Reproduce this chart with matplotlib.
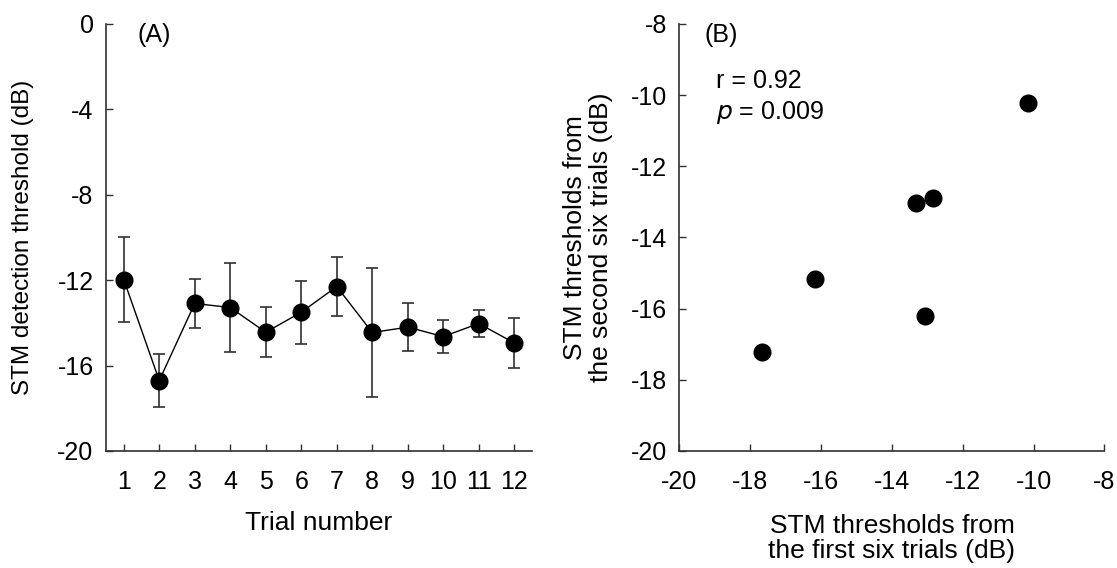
import matplotlib.pyplot as plt
import numpy as np

plt.rcParams["font.family"] = ["Liberation Sans", "DejaVu Sans"]
plt.rcParams["axes.unicode_minus"] = False

# panel A: mean threshold per trial, with error bars
trials = np.arange(1, 13)
trial_mean = [-11.97, -16.70, -13.09, -13.28, -14.44, -13.50, -12.30, -14.45, -14.20, -14.64, -14.03, -14.94]
trial_err = [2.00, 1.26, 1.14, 2.10, 1.17, 1.48, 1.40, 3.00, 1.12, 0.78, 0.65, 1.15]

# panel B: first six vs second six trials
first_six = [-17.68, -16.16, -13.31, -12.83, -13.07, -10.17]
second_six = [-17.22, -15.17, -13.02, -12.88, -16.21, -10.21]

LINE = "#303030"
TICK_FS = 18
LABEL_FS = 19

fig = plt.figure(figsize=(11.17, 5.68), dpi=100)
ax_a = fig.add_axes([0.0949, 0.206, 0.3814, 0.7518])
ax_b = fig.add_axes([0.6083, 0.206, 0.3805, 0.7518])

for ax in (ax_a, ax_b):
    for side in ("top", "right"):
        ax.spines[side].set_visible(False)
    for side in ("left", "bottom"):
        ax.spines[side].set_color(LINE)
        ax.spines[side].set_linewidth(1.2)
    ax.tick_params(direction="in", length=5, width=1.0, color=LINE, labelsize=TICK_FS)
    ax.tick_params(axis="x", pad=14)
    ax.tick_params(axis="y", pad=9)

# (A)
ax_a.errorbar(trials, trial_mean, yerr=trial_err, fmt="o-", color="black",
              ecolor=LINE, elinewidth=1.2, capsize=4, capthick=1.2,
              markersize=12, linewidth=1.0)
ax_a.set_xlim(0.5, 12.5)
ax_a.set_ylim(-20, 0)
ax_a.set_xticks(trials)
ax_a.set_yticks([0, -4, -8, -12, -16, -20])
ax_a.set_xlabel("Trial number", fontsize=LABEL_FS, labelpad=12)
ax_a.set_ylabel("STM detection threshold (dB)", fontsize=17.5, labelpad=17)
ax_a.text(0.074, 0.975, "(A)", transform=ax_a.transAxes, fontsize=TICK_FS, va="center")

# (B)
ax_b.plot(first_six, second_six, "o", color="black", markersize=12)
ax_b.set_xlim(-20, -8)
ax_b.set_ylim(-20, -8)
ax_b.set_xticks([-20, -18, -16, -14, -12, -10, -8])
ax_b.set_yticks([-8, -10, -12, -14, -16, -18, -20])
ax_b.set_xlabel("STM thresholds from\nthe first six trials (dB)", fontsize=LABEL_FS,
                labelpad=14, linespacing=1.05)
ax_b.set_ylabel("STM thresholds from\nthe second six trials (dB)", fontsize=LABEL_FS,
                labelpad=13, linespacing=1.1)
ax_b.text(0.059, 0.975, "(B)", transform=ax_b.transAxes, fontsize=TICK_FS, va="center")
ax_b.text(0.085, 0.850, "r = 0.92", transform=ax_b.transAxes, fontsize=TICK_FS, va="baseline")
ax_b.text(0.085, 0.778, "$\\it{p}$ = 0.009", transform=ax_b.transAxes, fontsize=TICK_FS,
          va="baseline")

fig.savefig("out.png", dpi=100)
